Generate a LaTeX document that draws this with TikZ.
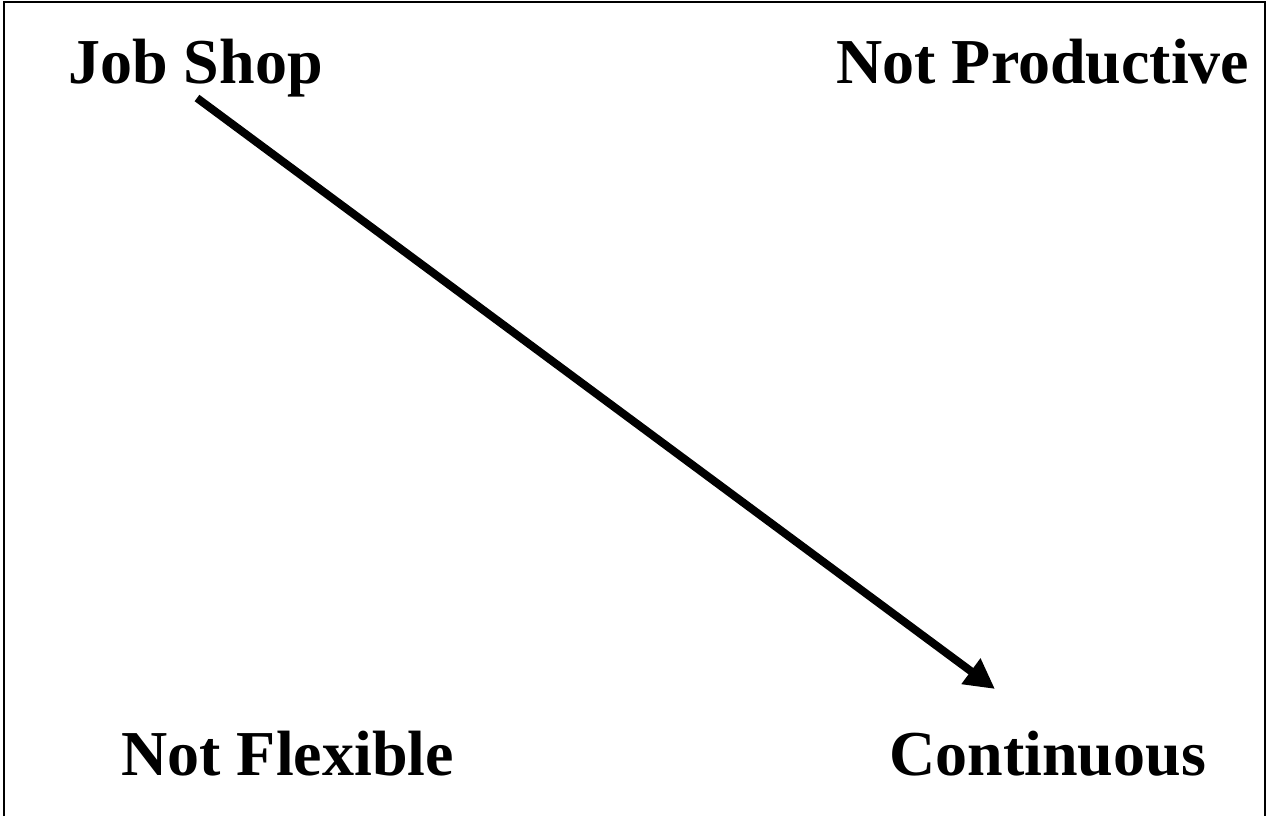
\documentclass[tikz,border=0pt]{standalone}
\usepackage{fontspec}
\setmainfont{Liberation Serif}
\usetikzlibrary{arrows.meta}
\begin{document}
\begin{tikzpicture}[x=0.5pt,y=-0.5pt,
  lbl/.style={anchor=base west,inner sep=0pt,font=\fontsize{32}{36}\selectfont\bfseries},
  conn/.style={line width=4pt,-{Triangle[length=15pt,width=15pt]}},
  frame/.style={line width=1pt}]
\useasboundingbox (0,0) rectangle (1268,816);
\draw[frame] (3.5,816) -- (3.5,2) -- (1264.5,2) -- (1264.5,816);
\node[lbl] (js) at (68,83) {Job Shop};
\node[lbl] (np) at (836,83) {Not Productive};
\node[lbl] (nf) at (121,775) {Not Flexible};
\node[lbl] (co) at (889,775) {Continuous};
\coordinate (s) at (197,98);
\coordinate (e) at (995,689);
\draw[conn] (s) -- (e);
\end{tikzpicture}
\end{document}
